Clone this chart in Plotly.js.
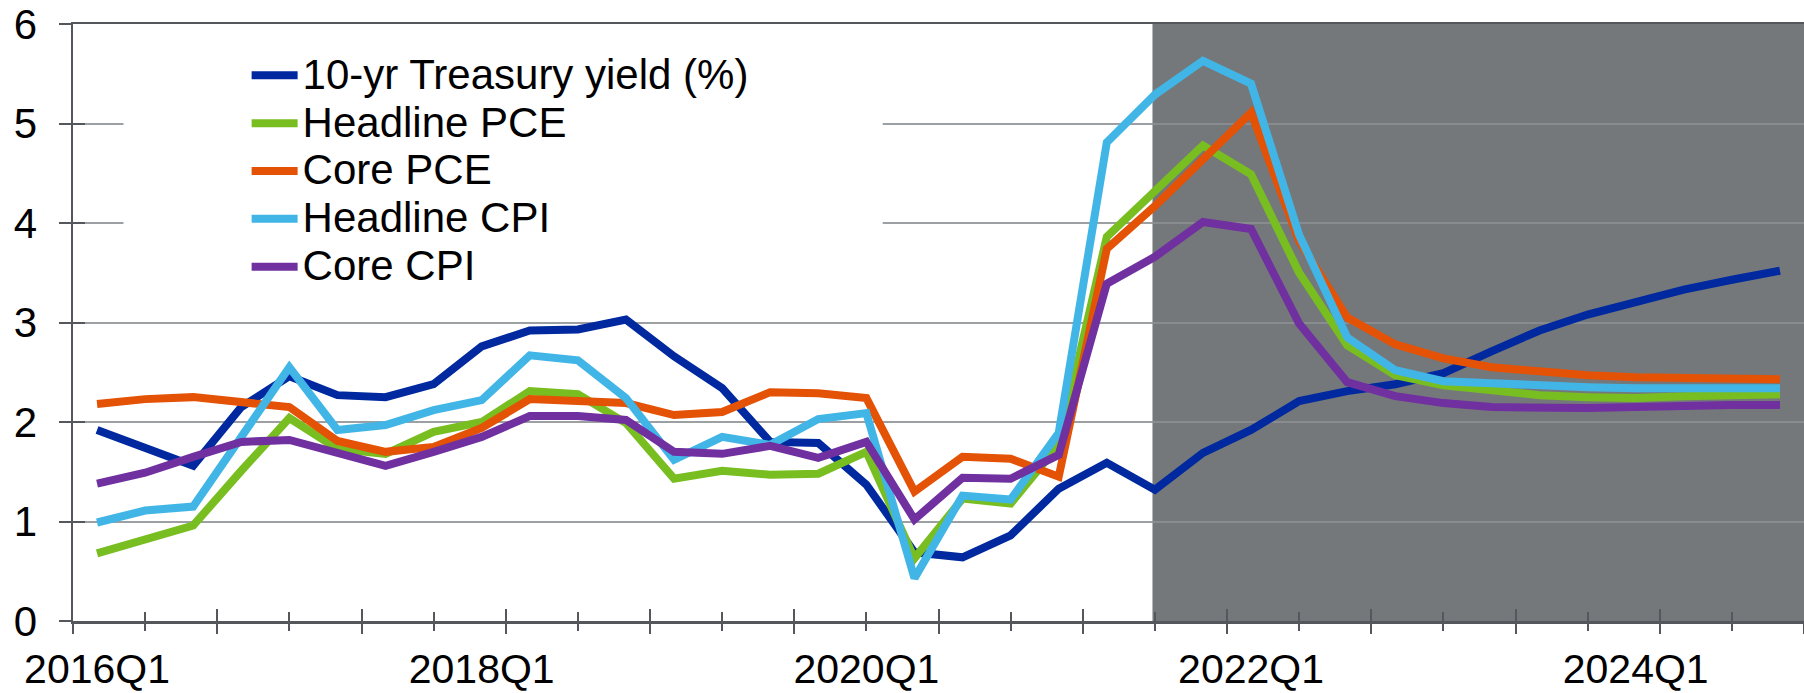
<!DOCTYPE html>
<html>
<head>
<meta charset="utf-8">
<script src="https://cdn.plot.ly/plotly-3.0.1.min.js"></script>
<style>
  html, body { margin: 0; padding: 0; background: #ffffff; }
  #chart { width: 1804px; height: 693px; }
</style>
</head>
<body>
<div id="chart"></div>
<script>
// ---- Data ----
const categories = [
  '2016Q1','2016Q2','2016Q3','2016Q4','2017Q1','2017Q2','2017Q3','2017Q4',
  '2018Q1','2018Q2','2018Q3','2018Q4','2019Q1','2019Q2','2019Q3','2019Q4',
  '2020Q1','2020Q2','2020Q3','2020Q4','2021Q1','2021Q2','2021Q3','2021Q4',
  '2022Q1','2022Q2','2022Q3','2022Q4','2023Q1','2023Q2','2023Q3','2023Q4',
  '2024Q1','2024Q2','2024Q3','2024Q4'
];
const tickLabels = ['2016Q1', '2018Q1', '2020Q1', '2022Q1', '2024Q1'];
const forecastStart = '2021Q3';

const seriesNames = ['10-yr Treasury yield (%)', 'Headline PCE', 'Core PCE', 'Headline CPI', 'Core CPI'];

const treasury10y = [1.92, 1.75, 1.56, 2.15, 2.46, 2.27, 2.25, 2.38, 2.76, 2.92, 2.93, 3.03,
  2.66, 2.34, 1.80, 1.79, 1.37, 0.69, 0.64, 0.86, 1.33, 1.59, 1.32, 1.69,
  1.92, 2.21, 2.31, 2.38, 2.49, 2.71, 2.92, 3.08, 3.21, 3.33, 3.43, 3.52];
const headlinePCE = [0.68, 0.83, 0.96, 1.51, 2.04, 1.73, 1.68, 1.90, 2.00, 2.31, 2.28, 1.99,
  1.43, 1.51, 1.47, 1.48, 1.70, 0.63, 1.23, 1.18, 1.77, 3.86, 4.31, 4.78,
  4.49, 3.50, 2.77, 2.47, 2.37, 2.32, 2.27, 2.25, 2.24, 2.26, 2.26, 2.28];
const corePCE = [2.18, 2.23, 2.25, 2.19, 2.15, 1.81, 1.70, 1.75, 1.94, 2.23, 2.22, 2.19,
  2.07, 2.10, 2.30, 2.29, 2.24, 1.30, 1.65, 1.63, 1.45, 3.74, 4.17, 4.64,
  5.11, 3.82, 3.05, 2.78, 2.64, 2.55, 2.50, 2.47, 2.45, 2.44, 2.44, 2.43];
const headlineCPI = [0.99, 1.11, 1.15, 1.85, 2.55, 1.92, 1.97, 2.12, 2.22, 2.67, 2.62, 2.24,
  1.62, 1.85, 1.77, 2.03, 2.09, 0.43, 1.26, 1.22, 1.89, 4.81, 5.29, 5.63,
  5.40, 3.88, 2.85, 2.52, 2.41, 2.39, 2.36, 2.35, 2.34, 2.34, 2.34, 2.34];
const coreCPI = [1.38, 1.49, 1.65, 1.80, 1.82, 1.68, 1.56, 1.70, 1.85, 2.06, 2.06, 2.02,
  1.70, 1.68, 1.76, 1.64, 1.80, 1.02, 1.44, 1.43, 1.67, 3.39, 3.66, 4.01,
  3.94, 2.99, 2.40, 2.26, 2.19, 2.15, 2.14, 2.14, 2.15, 2.17, 2.17, 2.17];

const yTicks = [0, 1, 2, 3, 4, 5, 6];

// ---- Styles ----
const colors = ['#0029A0', '#78BE21', '#E35205', '#41B6E6', '#7030A0'];
const FONT = 'Liberation Sans, Arial, Helvetica, sans-serif';
const AXIS_COLOR = '#54585c';
const GRID_COLOR = 'rgba(140,143,147,0.85)';
const SHADE_COLOR = '#75787B';

const xIdx = categories.map((_, i) => i);
const allSeries = [treasury10y, headlinePCE, corePCE, headlineCPI, coreCPI];
const xMin = -0.5, xMax = categories.length - 0.5;

// tick marks every 1.5 quarters (long every 3 quarters starting at the axis edge, short in between)
const longTicks = [], shortTicks = [];
for (let v = xMin; v <= xMax + 1e-9; v += 3) longTicks.push(v);
for (let v = xMin + 1.5; v <= xMax + 1e-9; v += 3) shortTicks.push(v);

const traces = allSeries.map((ys, k) => ({
  type: 'scatter', mode: 'lines',
  x: xIdx, y: ys,
  name: '<span style="font-size:42px">' + seriesNames[k] + '</span>',
  line: { color: colors[k], width: 8 },
  hoverinfo: 'skip'
}));
// empty helper traces so the overlay tick axes get drawn
traces.push({ type: 'scatter', mode: 'lines', x: [], y: [], xaxis: 'x2', yaxis: 'y', showlegend: false, hoverinfo: 'skip' });
traces.push({ type: 'scatter', mode: 'lines', x: [], y: [], xaxis: 'x3', yaxis: 'y', showlegend: false, hoverinfo: 'skip' });
traces.push({ type: 'scatter', mode: 'lines', x: [], y: [], xaxis: 'x', yaxis: 'y2', showlegend: false, hoverinfo: 'skip' });

const tickAxis = (side) => ({
  overlaying: 'x', anchor: 'y', type: 'linear', range: [xMin, xMax],
  tickmode: 'array', tickvals: longTicks, ticks: side, ticklen: 12, tickwidth: 2, tickcolor: AXIS_COLOR,
  showticklabels: false, showgrid: false, zeroline: false, showline: false, fixedrange: true,
  minor: { tickmode: 'array', tickvals: shortTicks, ticks: side, ticklen: 9, tickwidth: 2, tickcolor: AXIS_COLOR, showgrid: false }
});

const layout = {
  width: 1804, height: 693,
  margin: { l: 73, r: 0, t: 24, b: 72, pad: 0 },
  paper_bgcolor: '#ffffff', plot_bgcolor: '#ffffff',
  font: { family: FONT, size: 40, color: '#000000' },
  showlegend: true,
  legend: {
    x: 0.1003, y: 0.9625, xanchor: 'left', yanchor: 'top',
    bgcolor: 'rgba(0,0,0,0)', borderwidth: 0,
    font: { family: FONT, size: 34.5, color: '#000000' },
    itemwidth: 46
  },
  xaxis: {
    type: 'linear', range: [xMin, xMax],
    tickmode: 'array', tickvals: tickLabels.map(t => categories.indexOf(t)), ticktext: tickLabels,
    ticks: '', showgrid: false, zeroline: false,
    showline: true, linecolor: AXIS_COLOR, linewidth: 2.5, mirror: true,
    ticklabelstandoff: 10,
    tickfont: { family: FONT, size: 41, color: '#000000' }, fixedrange: true
  },
  xaxis2: tickAxis('outside'),
  xaxis3: tickAxis('inside'),
  yaxis: {
    range: [0, 6], tickmode: 'array', tickvals: yTicks,
    ticks: 'outside', ticklen: 12, tickwidth: 2, tickcolor: AXIS_COLOR,
    showline: true, linecolor: AXIS_COLOR, linewidth: 2.5,
    showgrid: true, gridcolor: GRID_COLOR, gridwidth: 2, zeroline: false,
    ticklabelstandoff: 13,
    tickfont: { family: FONT, size: 42, color: '#000000' }, fixedrange: true
  },
  yaxis2: {
    overlaying: 'y', anchor: 'x', side: 'left', range: [0, 6],
    tickmode: 'array', tickvals: yTicks, ticks: 'inside', ticklen: 12, tickwidth: 2, tickcolor: AXIS_COLOR,
    showticklabels: false, showgrid: false, zeroline: false, showline: false, fixedrange: true
  },
  shapes: [
    { type: 'rect', xref: 'x', yref: 'y', x0: categories.indexOf(forecastStart) - 0.05, x1: xMax, y0: 0, y1: 6,
      fillcolor: SHADE_COLOR, line: { width: 0 }, layer: 'below' },
    // white legend box (covers gridlines behind legend)
    { type: 'rect', xref: 'x', yref: 'y', x0: 0.55, x1: 16.34, y0: 3.32, y1: 5.78,
      fillcolor: '#ffffff', line: { width: 0 }, layer: 'above' }
  ]
};

Plotly.newPlot('chart', traces, layout, { staticPlot: true, displayModeBar: false });
</script>
</body>
</html>
